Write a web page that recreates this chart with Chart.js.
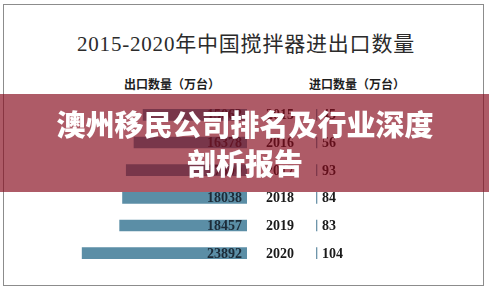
<!DOCTYPE html>
<html>
<head>
<meta charset="utf-8">
<script src="https://cdn.jsdelivr.net/npm/chart.js@4"></script>
<style>
  body { margin: 0; background: #fff; }
  #wrap { position: relative; width: 489px; height: 287px; overflow: hidden; background: #fff; }
  #frame { position: absolute; left: 3px; top: 4px; width: 479px; height: 280px; border: 1px solid #8c8c8c; }
  .txt { position: absolute; white-space: nowrap; transform: translate(-50%, -50%); }
  #title { left: 246px; top: 42px; font: 21px "Liberation Serif", "Noto Sans CJK SC", serif; letter-spacing: 0.8px; color: #2b2b2b; }
  .sub { top: 83px; font: bold 12px "Noto Sans CJK SC", sans-serif; color: #1e1e1e; }
  .cv { position: absolute; left: 0; top: 0; width: 489px; height: 287px; }
  #banner { position: absolute; left: 0; top: 94px; width: 489px; height: 98px; background: rgba(134, 10, 28, 0.67); }
  .bt { color: #fff; font: 900 29px "Noto Sans CJK SC", sans-serif; left: 245px; }
</style>
</head>
<body>
<div id="wrap">
  <div id="frame"></div>
  <div id="title" class="txt">2015-2020年中国搅拌器进出口数量</div>
  <div class="txt sub" style="left:172px">出口数量（万台）</div>
  <div class="txt sub" style="left:357px">进口数量（万台）</div>
  <div class="cv"><canvas id="chartExport"></canvas></div>
  <div class="cv"><canvas id="chartImport"></canvas></div>
  <div id="banner"></div>
  <div class="txt bt" style="top:123px">澳州移民公司排名及行业深度</div>
  <div class="txt bt" style="top:162px">剖析报告</div>
</div>
<script>
const years = ['2015', '2016', '2017', '2018', '2019', '2020'];
const exportQty = [15062, 16378, 17500, 18038, 18457, 23892];
const importQty = [45, 56, 93, 84, 83, 104];

const numFont = 'bold 14px "Liberation Serif", serif';

// value labels (and year labels on the export side)
const labelPlugin = {
  id: 'labels',
  afterDatasetsDraw(chart, args, opts) {
    const ctx = chart.ctx;
    const meta = chart.getDatasetMeta(0);
    ctx.save();
    ctx.font = numFont;
    ctx.textBaseline = 'middle';
    meta.data.forEach(function (bar, i) {
      const v = chart.data.datasets[0].data[i];
      if (opts.side === 'export') {
        ctx.fillStyle = '#1c2b38';
        ctx.textAlign = 'right';
        ctx.fillText(v, bar.base - 5, bar.y + 1);
        ctx.fillStyle = '#1a1a1a';
        ctx.textAlign = 'center';
        ctx.fillText(chart.data.labels[i], bar.base + 33, bar.y + 1);
      } else {
        ctx.fillStyle = '#1a1a1a';
        ctx.textAlign = 'left';
        ctx.fillText(v, bar.x + 5, bar.y + 1);
      }
    });
    ctx.restore();
  }
};

function makeChart(id, data, side, pad, max, color) {
  return new Chart(document.getElementById(id), {
    type: 'bar',
    data: {
      labels: years,
      datasets: [{
        data: data,
        backgroundColor: color,
        barThickness: 11,
        minBarLength: 1
      }]
    },
    options: {
      indexAxis: 'y',
      responsive: true,
      maintainAspectRatio: false,
      animation: false,
      layout: { padding: pad },
      scales: {
        x: { display: false, min: 0, max: max, reverse: side === 'export' },
        y: { display: false }
      },
      plugins: {
        legend: { display: false },
        tooltip: { enabled: false },
        labels: { side: side }
      }
    },
    plugins: [labelPlugin]
  });
}

makeChart('chartExport', exportQty, 'export', { left: 40, right: 242, top: 101, bottom: 20 }, 30000, '#5b8ea6');
makeChart('chartImport', importQty, 'import', { left: 316, right: 23, top: 101, bottom: 20 }, 21000, '#6e95aa');
</script>
</body>
</html>
